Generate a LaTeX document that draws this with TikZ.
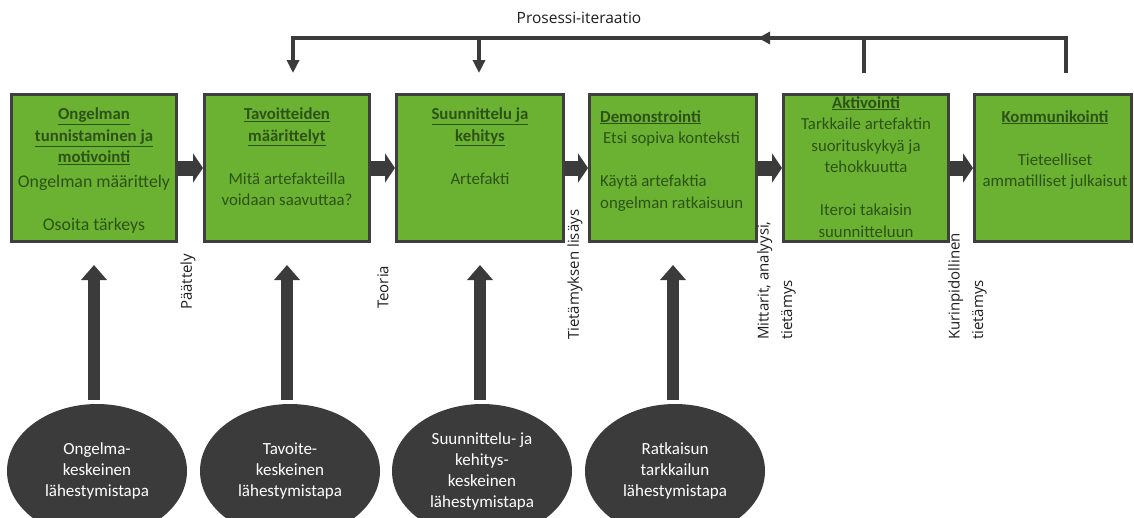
\documentclass[tikz,border=0pt]{standalone}
\usepackage{fontspec}
\setmainfont{Carlito}
\newfontfamily\labelfont{Open Sans}
\usetikzlibrary{arrows.meta,shapes.geometric}

\definecolor{boxgreen}{HTML}{6CB232}
\definecolor{boxtext}{HTML}{2D5219}
\definecolor{edgegray}{HTML}{3F3F3F}
\definecolor{darkfill}{HTML}{3B3B3B}
\definecolor{labelgray}{HTML}{1E1E1E}

\newcommand\hd[1]{\underline{\textbf{#1}}}

\begin{document}
\begin{tikzpicture}[x=1pt,y=-1pt,
  stage/.style={draw=edgegray,line width=3pt,fill=boxgreen,
    minimum width=165pt,minimum height=147pt,inner sep=0pt},
  stagetext/.style={text=boxtext,font=\fontsize{16.8}{21.5}\selectfont,
    align=center,anchor=north,inner sep=0pt},
  approach/.style={ellipse,fill=darkfill,text=white,minimum width=180pt,
    minimum height=134pt,inner sep=0pt,align=center,
    font=\fontsize{17}{21}\selectfont},
  flow/.style={draw=darkfill,line width=15pt,
    -{Triangle[width=29pt,length=10pt]}},
  rise/.style={draw=darkfill,line width=12pt,shorten <=4pt,shorten >=22pt,
    -{Triangle[width=25pt,length=15pt]}},
  feed/.style={draw=darkfill,line width=4pt},
  feedtip/.style={feed,-{Triangle[width=12pt,length=13pt]}},
  sidelabel/.style={rotate=90,anchor=west,inner sep=0pt,align=left,
    text=labelgray,font=\labelfont\fontsize{15}{23.5}\selectfont}]

\useasboundingbox (0,0) rectangle (1134,517);
\clip (0,0) rectangle (1134,517);

% process stages
\node[stage] (b1) at (94,168) {};
\node[stage] (b2) at (287,168) {};
\node[stage,minimum width=167pt] (b3) at (480,168) {};
\node[stage,minimum width=167pt] (b4) at (673,168) {};
\node[stage] (b5) at (866,168) {};
\node[stage,minimum width=157pt] (b6) at (1053,168) {};

\node[stagetext] (t1) at (94,108) {\hd{Ongelman}\\\hd{tunnistaminen ja}\\\hd{motivointi}\\[3.5pt]{\fontsize{17.8}{21.5}\selectfont Ongelman määrittely}\\[21.5pt]{\fontsize{17.8}{21.5}\selectfont Osoita tärkeys}};
\node[stagetext] (t2) at (287,108) {\hd{Tavoitteiden}\\\hd{määrittelyt}\\[21.5pt]Mitä artefakteilla\\voidaan saavuttaa?};
\node[stagetext] (t3) at (480,108) {\hd{Suunnittelu ja}\\\hd{kehitys}\\[21.5pt]Artefakti};
\node[stagetext,align=left,anchor=north west] (t4) at (600,110) {\hd{Demonstrointi}\\\hspace{3pt}Etsi sopiva konteksti\\[21.5pt]Käytä artefaktia\\ongelman ratkaisuun};
\node[stagetext] (t5) at (866,96) {\hd{Aktivointi}\\Tarkkaile artefaktin\\suorituskykyä ja\\tehokkuutta\\[21.5pt]Iteroi takaisin\\suunnitteluun};
\node[stagetext] (t6) at (1055,110) {\hd{Kommunikointi}\\[21.5pt]Tieteelliset\\ammatilliset julkaisut};

% flow between stages
\draw[flow] (b1.east) -- (b2.west);
\draw[flow] (b2.east) -- (b3.west);
\draw[flow] (b3.east) -- (b4.west);
\draw[flow] (b4.east) -- (b5.west);
\draw[flow] (b5.east) -- (b6.west);

% process iteration loop
\node[font=\labelfont\fontsize{15.5}{18}\selectfont,text=labelgray] (pi) at (579,18) {Prosessi-iteraatio};
\coordinate (k2) at (293,73);
\coordinate (k3) at (479,73);
\coordinate (k5) at (864,73);
\coordinate (k6) at (1066,73);
\coordinate (c2) at (293,38);
\coordinate (c3) at (479,38);
\coordinate (c5) at (864,38);
\coordinate (c6) at (1066,38);
\coordinate (cm) at (758,38);
\draw[feed,line join=miter] (k6) -- (c6) -- (c2) -- (293,45);
\draw[feedtip] (c2) -- (k2);
\draw[feedtip] (c3) -- (k3);
\draw[feed] (k5) -- (c5);
\draw[feed,-{Triangle[width=12pt,length=12pt]}] (c6) -- (cm);

% labels on the flow
\node[sidelabel] (l1) at (188,310) {Päättely};
\node[sidelabel] (l2) at (383,309) {Teoria};
\node[sidelabel] (l3) at (575,340) {Tietämyksen lisäys};
\node[sidelabel] (l4) at (776.5,340) {Mittarit, analyysi,\\tietämys};
\node[sidelabel] (l5) at (967.5,340) {Kurinpidollinen\\tietämys};

% research entry points
\node[approach] (e1) at (97,471) {Ongelma-\\keskeinen\\lähestymistapa};
\node[approach] (e2) at (290,471) {Tavoite-\\keskeinen\\lähestymistapa};
\node[approach] (e3) at (482,471) {Suunnittelu- ja\\kehitys-\\keskeinen\\lähestymistapa};
\node[approach] (e4) at (675,471) {Ratkaisun\\tarkkailun\\lähestymistapa};

\draw[rise] (e1.north -| b1.south) -- (b1.south);
\draw[rise] (e2.north -| b2.south) -- (b2.south);
\draw[rise] (e3.north -| b3.south) -- (b3.south);
\draw[rise] (e4.north -| b4.south) -- (b4.south);
\end{tikzpicture}
\end{document}
